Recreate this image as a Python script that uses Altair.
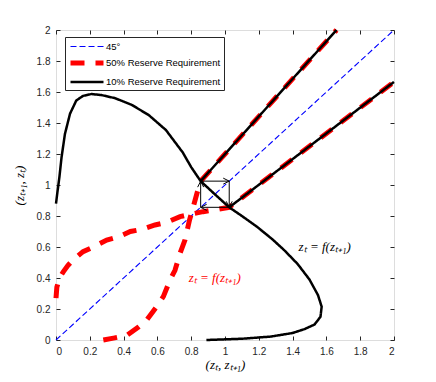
import altair as alt
import pandas as pd

# ---- data ----
series_names = ["45°", "50% Reserve Requirement", "10% Reserve Requirement"]

diag_x = [0.0, 2.0]
diag_y = [0.0, 2.0]

# 50% reserve requirement (red), two branches each continuing into a straight line
red_a_x = [0.0, 0.005, 0.02, 0.043, 0.07, 0.10, 0.16, 0.22, 0.30, 0.37, 0.44, 0.51, 0.586, 0.655, 0.734, 0.79, 0.87, 0.95, 1.025, 2.0]
red_a_y = [0.27, 0.34, 0.40, 0.44, 0.48, 0.516, 0.57, 0.60, 0.645, 0.666, 0.70, 0.714, 0.742, 0.759, 0.796, 0.81, 0.828, 0.842, 0.856, 1.665]
red_b_x = [0.28, 0.34, 0.42, 0.49, 0.537, 0.596, 0.635, 0.675, 0.704, 0.734, 0.763, 0.79, 0.815, 0.835, 0.856, 1.66]
red_b_y = [0.0, 0.012, 0.03, 0.086, 0.129, 0.215, 0.28, 0.387, 0.45, 0.559, 0.645, 0.774, 0.87, 0.95, 1.025, 2.0]

# 10% reserve requirement (black)
blk_a_x = [0.0, 0.008, 0.02, 0.033, 0.053, 0.083, 0.12, 0.16, 0.21, 0.27, 0.35, 0.45, 0.55, 0.65, 0.75, 0.80, 0.856, 0.94, 1.025,
           1.10, 1.19, 1.28, 1.35, 1.43, 1.50, 1.55, 1.572, 1.565, 1.53, 1.47, 1.40, 1.27, 1.10, 0.89]
blk_a_y = [0.88, 0.95, 1.05, 1.18, 1.33, 1.46, 1.545, 1.575, 1.587, 1.58, 1.56, 1.516, 1.45, 1.355, 1.21, 1.115, 1.025, 0.94, 0.856,
           0.80, 0.73, 0.65, 0.58, 0.49, 0.39, 0.29, 0.215, 0.15, 0.10, 0.07, 0.045, 0.022, 0.008, 0.0]
blk_b_x = [0.856, 1.66]
blk_b_y = [1.025, 2.0]
blk_c_x = [1.025, 2.0]
blk_c_y = [0.856, 1.665]

# cobweb arrows (2-cycle)
arr_x = [0.856, 1.025, 1.025, 0.856]
arr_y = [1.025, 1.025, 0.856, 0.856]
arr_x2 = [1.025, 1.025, 0.856, 0.856]
arr_y2 = [1.025, 0.856, 0.856, 1.025]
arr_ang = [0, 90, 180, 270]

ann_text = ["zₜ = f(zₜ₊₁)", "zₜ = f(zₜ₊₁)"]
ann_x = [1.59, 0.94]
ann_y = [0.60, 0.40]
ann_col = ["#000000", "#ff0000"]

ticks = [0, 0.2, 0.4, 0.6, 0.8, 1.0, 1.2, 1.4, 1.6, 1.8, 2.0]

# ---- tables ----
def path_df(xs, ys, series, pid):
    return pd.DataFrame({"x": xs, "y": ys, "series": series, "path": pid, "ord": list(range(len(xs)))})

blue_df = path_df(diag_x, diag_y, series_names[0], "d")
red_df = pd.concat([path_df(red_a_x, red_a_y, series_names[1], "ra"),
                    path_df(red_b_x, red_b_y, series_names[1], "rb")])
blk_df = pd.concat([path_df(blk_a_x, blk_a_y, series_names[2], "ba"),
                    path_df(blk_b_x, blk_b_y, series_names[2], "bb"),
                    path_df(blk_c_x, blk_c_y, series_names[2], "bc")])
arr_df = pd.DataFrame({"x": arr_x, "y": arr_y, "x2": arr_x2, "y2": arr_y2, "ang": arr_ang})
ann_df = pd.DataFrame({"t": ann_text, "x": ann_x, "y": ann_y, "c": ann_col})

xs = alt.Scale(domain=[0, 2], nice=False, zero=False)
ys = alt.Scale(domain=[0, 2], nice=False, zero=False)

axis_common = dict(values=ticks, tickSize=4, offset=-4, domain=False, grid=False,
                   tickColor="#262626", labelColor="#262626", labelFont="Liberation Sans",
                   labelFontSize=10, titleFont="Liberation Serif", titleFontStyle="italic",
                   titleFontSize=13, titleFontWeight="normal", titleColor="#000000", format="~g")

x_bottom = alt.Axis(orient="bottom", labelPadding=6, title="(zₜ, zₜ₊₁)", titlePadding=2, **axis_common)
y_left = alt.Axis(orient="left", labelPadding=6, title="(zₜ₊₁, zₜ)", titlePadding=10, **axis_common)
x_top = alt.Axis(orient="top", values=ticks, tickSize=4, offset=-4, domain=False, grid=False,
                 labels=False, title=None, tickColor="#262626")
y_right = alt.Axis(orient="right", values=ticks, tickSize=4, offset=-4, domain=False, grid=False,
                   labels=False, title=None, tickColor="#262626")

color_sc = alt.Scale(domain=series_names, range=["#0000ff", "#ff0000", "#000000"])
dash_sc = alt.Scale(domain=series_names, range=[[6, 3], [14, 11], [1, 0]])
width_sc = alt.Scale(type="ordinal", domain=series_names, range=[1.1, 5, 2.5])

# legend symbol: a horizontal stroke reaching from the symbol's left edge ~33px to the right
legend = alt.Legend(title=None, orient="none", legendX=9, legendY=7,
                    symbolType="M-1,0H5", symbolSize=121,
                    fillColor="white", strokeColor="#262626", padding=3,
                    labelFont="Liberation Sans", labelFontSize=9.5, labelColor="#000000",
                    labelOffset=22, rowPadding=2, cornerRadius=0, labelLimit=200)

def line_layer(df, xaxis, yaxis):
    return alt.Chart(df).mark_line().encode(
        x=alt.X("x:Q", scale=xs, axis=xaxis),
        y=alt.Y("y:Q", scale=ys, axis=yaxis),
        color=alt.Color("series:N", scale=color_sc, legend=legend),
        strokeDash=alt.StrokeDash("series:N", scale=dash_sc, legend=legend),
        strokeWidth=alt.StrokeWidth("series:N", scale=width_sc, legend=legend),
        detail="path:N",
        order="ord:Q",
    )

blue = line_layer(blue_df, x_bottom, y_left)
red = line_layer(red_df, x_top, y_right)
blk = line_layer(blk_df, None, None)

rules = alt.Chart(arr_df).mark_rule(color="black", strokeWidth=1).encode(
    x=alt.X("x:Q", scale=xs, axis=None), y=alt.Y("y:Q", scale=ys, axis=None),
    x2="x2:Q", y2="y2:Q")
heads = alt.Chart(arr_df).mark_point(shape="M-1,-0.5L0,0L-1,0.5", filled=False, color="black",
                                     strokeWidth=1, size=144, opacity=1).encode(
    x=alt.X("x2:Q", scale=xs, axis=None), y=alt.Y("y2:Q", scale=ys, axis=None),
    angle=alt.Angle("ang:Q", scale=None))
texts = alt.Chart(ann_df).mark_text(font="Liberation Serif", fontStyle="italic", fontSize=13).encode(
    x=alt.X("x:Q", scale=xs, axis=None), y=alt.Y("y:Q", scale=ys, axis=None),
    text="t:N", color=alt.Color("c:N", scale=None))

chart = alt.layer(blue, red, blk, rules, heads, texts).resolve_axis(
    x="independent", y="independent").properties(
    width=338, height=310,
    autosize=alt.AutoSizeParams(type="none"),
    padding={"left": 48, "top": 22, "right": 34, "bottom": 34},
).configure_view(stroke="#262626", strokeWidth=1).configure(background="white")

chart.save("out.html", embed_options={"renderer": "svg", "actions": False})
